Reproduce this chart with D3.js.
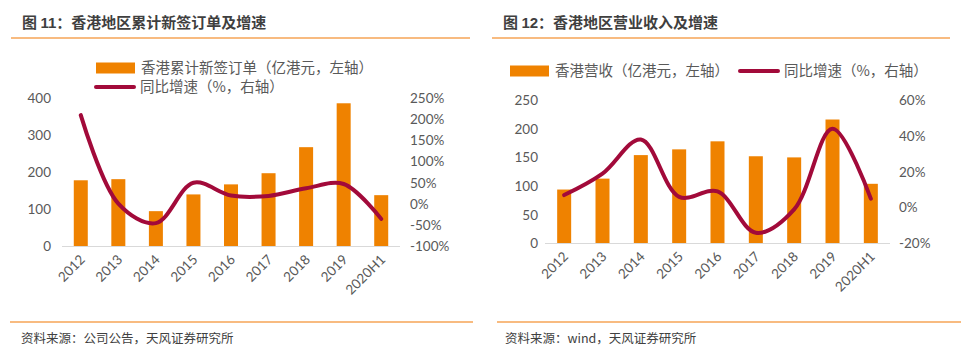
<!DOCTYPE html>
<html><head><meta charset="utf-8">
<script src="https://cdn.jsdelivr.net/npm/d3@7"></script>
<style>
body{margin:0;background:#fff;}
svg{display:block;}
text{text-spacing-trim:space-all;}
</style></head>
<body>
<svg id="c" width="972" height="357"></svg>
<script>
// ---- data ----
const categories = ["2012","2013","2014","2015","2016","2017","2018","2019","2020H1"];
const ordersHK = [178,181,95,140,167,197,267,385,138];
const ordersGrowth = [209,1,-45,50,20,19,37,47,-35];
const revenueHK = [94,113,154,164,178,152,150,216,104];
const revenueGrowth = [7,19,38,6,9,-14,-1,44,5];
const leftTicks1 = [0,100,200,300,400];
const rightTicks1 = [-100,-50,0,50,100,150,200,250];
const leftTicks2 = [0,50,100,150,200,250];
const rightTicks2 = [-20,0,20,40,60];

const BAR = "#EF8200", LINE = "#A20A3A", SEP = "#F6A556", TXT = "#595959";
const numFont = "Lato, 'Open Sans', sans-serif";
const cjk = "'Noto Sans CJK SC', sans-serif";
const svg = d3.select("#c");

function panel(o){
  const g = svg.append("g");
  // title
  const t = g.append("text").attr("x",o.titleX).attr("y",28)
    .attr("font-family",cjk).attr("font-weight","bold").attr("font-size",15).attr("fill","#3f3f3f");
  t.append("tspan").text("图 ");
  t.append("tspan").attr("font-family","'Liberation Sans',sans-serif").text(o.num);
  t.append("tspan").text("：" + o.title);
  g.append("line").attr("x1",o.sepTop[0]).attr("x2",o.sepTop[1]).attr("y1",38).attr("y2",38)
    .attr("stroke",SEP).attr("stroke-width",1.5);
  g.append("line").attr("x1",o.sepBot[0]).attr("x2",o.sepBot[1]).attr("y1",322).attr("y2",322)
    .attr("stroke",SEP).attr("stroke-width",1.5);
  g.append("text").attr("x",o.srcX).attr("y",343).attr("font-family",cjk).attr("font-size",12.5)
    .attr("fill","#404040").text(o.source);

  const x = d3.scaleBand().domain(categories).range(o.xr).padding(0);
  const yl = d3.scaleLinear().domain(o.ld).range(o.yr);
  const yr = d3.scaleLinear().domain(o.rd).range(o.yr);

  // bars
  g.append("g").selectAll("rect").data(o.bars).join("rect")
    .attr("x",(d,i)=>x(categories[i]) + x.bandwidth()/2 - 7)
    .attr("width",14)
    .attr("y",d=>yl(d)).attr("height",d=>yl(0)-yl(d)).attr("fill",BAR);

  // baseline
  g.append("line").attr("x1",o.xr[0]).attr("x2",o.xr[1]).attr("y1",yl(0)).attr("y2",yl(0))
    .attr("stroke","#d9d9d9").attr("stroke-width",1.2);

  // axes
  const la = g.append("g").attr("transform",`translate(${o.xr[0]},0)`)
    .call(d3.axisLeft(yl).tickValues(o.lt).tickSize(0).tickPadding(o.lpad).tickFormat(d3.format("d")));
  const ra = g.append("g").attr("transform",`translate(${o.xr[1]},0)`)
    .call(d3.axisRight(yr).tickValues(o.rt).tickSize(0).tickPadding(o.rpad).tickFormat(d=>d+"%"));
  [la,ra].forEach(a=>{a.select(".domain").remove();
    a.selectAll("text").attr("font-family",numFont).attr("font-size",13.5).attr("fill",TXT);});

  // x labels
  g.append("g").selectAll("text").data(categories).join("text")
    .attr("transform",d=>`translate(${x(d)+x.bandwidth()/2+5},${yl(0)+14}) rotate(-45)`)
    .attr("text-anchor","end").attr("font-family",numFont).attr("font-size",13.5).attr("fill",TXT)
    .text(d=>d);

  // line
  const line = d3.line().x((d,i)=>x(categories[i])+x.bandwidth()/2).y(d=>yr(d))
    .curve(d3.curveCatmullRom.alpha(0.5));
  g.append("path").datum(o.growth).attr("d",line).attr("fill","none")
    .attr("stroke",LINE).attr("stroke-width",4).attr("stroke-linecap","round").attr("stroke-linejoin","round");

  // legend
  o.legend.forEach(L=>{
    if(L.type==="bar") g.append("rect").attr("x",L.x).attr("y",L.y-5.5).attr("width",39).attr("height",11).attr("fill",BAR);
    else g.append("line").attr("x1",L.x+1).attr("x2",L.x+39).attr("y1",L.y).attr("y2",L.y)
      .attr("stroke",LINE).attr("stroke-width",4).attr("stroke-linecap","round");
    g.append("text").attr("x",L.x+45).attr("y",L.y).attr("dy","0.36em").attr("font-family",cjk)
      .attr("font-size",14.5).attr("fill",TXT).text(L.text);
  });
}

panel({
  titleX:22, num:"11", title:"香港地区累计新签订单及增速",
  sepTop:[11,470], sepBot:[10,473], srcX:21, source:"资料来源：公司公告，天风证券研究所",
  xr:[62,400], yr:[246.5,97.7], ld:[0,400], rd:[-100,250], lt:leftTicks1, rt:rightTicks1,
  lpad:11, rpad:10, bars:ordersHK, growth:ordersGrowth,
  legend:[{type:"bar",x:96,y:68,text:"香港累计新签订单（亿港元，左轴）"},
          {type:"line",x:95,y:87,text:"同比增速（%，右轴）"}]
});
panel({
  titleX:503, num:"12", title:"香港地区营业收入及增速",
  sepTop:[492,950], sepBot:[497,961], srcX:505, source:"资料来源：wind，天风证券研究所",
  xr:[545,890], yr:[243.5,100], ld:[0,250], rd:[-20,60], lt:leftTicks2, rt:rightTicks2,
  lpad:7, rpad:9, bars:revenueHK, growth:revenueGrowth,
  legend:[{type:"bar",x:510,y:71,text:"香港营收（亿港元，左轴）"},
          {type:"line",x:739,y:71,text:"同比增速（%，右轴）"}]
});
</script>
</body></html>
